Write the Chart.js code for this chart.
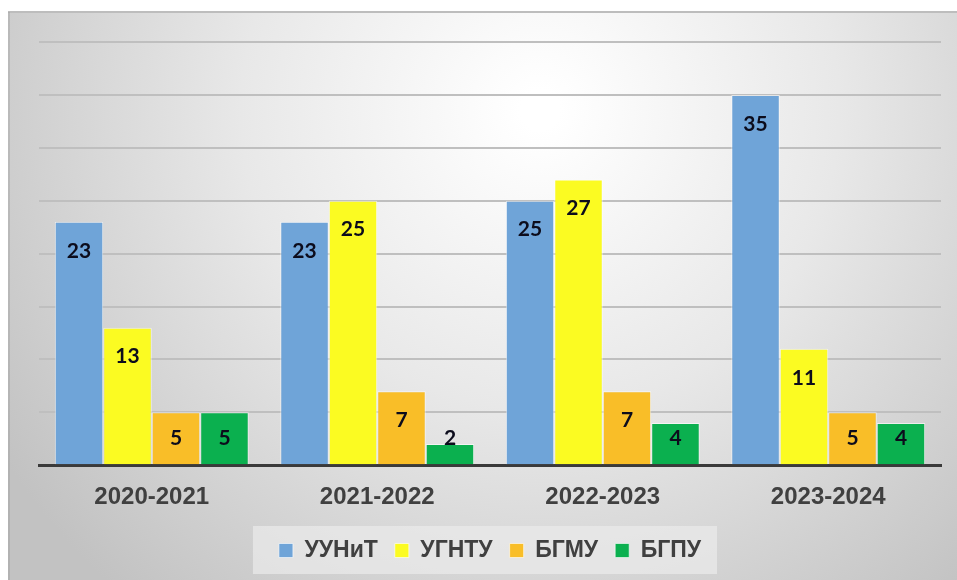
<!DOCTYPE html>
<html>
<head>
<meta charset="utf-8">
<script src="https://cdn.jsdelivr.net/npm/chart.js@4"></script>
<style>
  body { margin: 0; background: #ffffff; }
  #wrap { width: 957px; height: 580px; position: relative; }
</style>
</head>
<body>
<div id="wrap"><canvas id="chart"></canvas></div>
<script>
// --- data --- //
const years = ["2020-2021", "2021-2022", "2022-2023", "2023-2024"];
const uunit = [23, 23, 25, 35];
const ugntu = [13, 25, 27, 11];
const bgmu = [5, 7, 7, 5];
const bgpu = [5, 2, 4, 4];

// background frame with soft radial shading + legend box
const framePlugin = {
    id: 'frame',
    beforeDraw(chart) {
        const ctx = chart.ctx;
        const w = chart.width, h = chart.height;
        ctx.save();
        const g = ctx.createRadialGradient(540, 110, 20, 540, 110, 640);
        g.addColorStop(0, '#ffffff');
        g.addColorStop(0.45, '#e8e8e8');
        g.addColorStop(1, '#c2c2c2');
        ctx.fillStyle = g;
        ctx.fillRect(8, 12, w - 8, h - 12);
        ctx.fillStyle = '#bdbdbd';
        ctx.fillRect(8, 11, w - 8, 2);
        ctx.fillStyle = 'rgba(150,150,150,0.35)';
        ctx.fillRect(8, 12, 2, h - 12);

        // box behind legend
        const boxes = chart.legend.legendHitBoxes;
        if (boxes && boxes.length) {
            const left = Math.min(...boxes.map(b => b.left)) - 26;
            const right = Math.max(...boxes.map(b => b.left + b.width)) + 16;
            const top = boxes[0].top - 13;
            const bottom = boxes[0].top + boxes[0].height + 12;
            ctx.fillStyle = 'rgba(235,235,235,0.7)';
            ctx.fillRect(left, top, right - left, bottom - top);
        }
        ctx.restore();
    }
};

// value labels near the top of each bar
const valueLabels = {
    id: 'valueLabels',
    afterDatasetsDraw(chart) {
        const ctx = chart.ctx;
        ctx.save();
        ctx.font = 'bold 21px Lato, "Liberation Sans", sans-serif';
        ctx.fillStyle = '#0c0c1c';
        ctx.textAlign = 'center';
        ctx.textBaseline = 'middle';
        chart.data.datasets.forEach((ds, i) => {
            chart.getDatasetMeta(i).data.forEach((bar, j) => {
                const y = Math.min(bar.y + 29, bar.base - 26);
                ctx.fillText(ds.data[j], bar.x, y);
            });
        });
        ctx.restore();
    }
};

const data = {
    labels: years,
    datasets: [
        { label: 'УУНиТ', data: uunit, backgroundColor: '#6fa4d8' },
        { label: 'УГНТУ', data: ugntu, backgroundColor: '#fbfb22' },
        { label: 'БГМУ', data: bgmu, backgroundColor: '#f9be28' },
        { label: 'БГПУ', data: bgpu, backgroundColor: '#0bb04f' }
    ]
};
data.datasets.forEach(ds => {
    ds.borderColor = 'rgba(255,255,255,0.6)';
    ds.borderWidth = 1;
    ds.barPercentage = 1;
    ds.categoryPercentage = 0.86;
});

new Chart(document.getElementById('chart'), {
    type: 'bar',
    data: data,
    options: {
        responsive: true,
        maintainAspectRatio: false,
        animation: false,
        layout: { padding: { left: 39, right: 16, top: 42, bottom: 8 } },
        scales: {
            x: {
                grid: { display: false },
                border: { color: '#3a3a3a', width: 3 },
                ticks: {
                    color: '#404040',
                    padding: 10,
                    font: { family: '"Liberation Sans", Arial, sans-serif', size: 24, weight: 'bold' }
                }
            },
            y: {
                min: 0,
                max: 40,
                ticks: { display: false, stepSize: 5 },
                grid: { color: '#bfbfbf', lineWidth: 2, drawTicks: false },
                border: { display: false }
            }
        },
        plugins: {
            legend: {
                position: 'bottom',
                labels: {
                    boxWidth: 14,
                    boxHeight: 14,
                    padding: 17,
                    color: '#404040',
                    font: { family: '"Liberation Sans", Arial, sans-serif', size: 23, weight: 'bold' }
                }
            },
            tooltip: { enabled: false }
        }
    },
    plugins: [framePlugin, valueLabels]
});
</script>
</body>
</html>
